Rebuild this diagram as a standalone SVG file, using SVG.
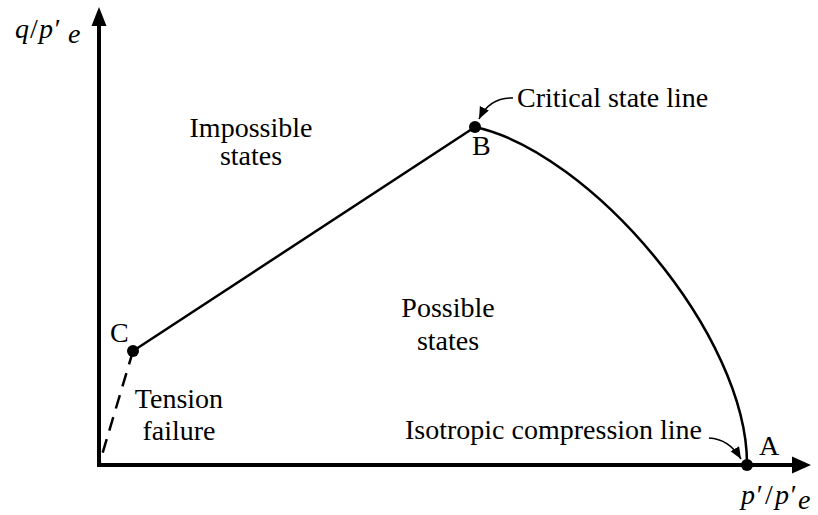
<svg xmlns="http://www.w3.org/2000/svg" width="818" height="515" viewBox="0 0 818 515">
<defs>
<style>
text{font-family:'Liberation Serif','DejaVu Serif',serif;font-size:28px;fill:#000}
.it{font-style:italic}
.ln{fill:none;stroke:#000;stroke-width:2.5}
.ax{fill:none;stroke:#000;stroke-width:4}
.thin{fill:none;stroke:#000;stroke-width:1.6}
.dot{fill:#000}
</style>
<marker id="ah" markerUnits="userSpaceOnUse" markerWidth="14" markerHeight="12" refX="12" refY="5" orient="auto">
<path d="M0,0 L12,5 L0,10 z" fill="#000"/>
</marker>
</defs>
<rect width="818" height="515" fill="#fff"/>
<g id="axes">
<line class="ax" x1="99" y1="467" x2="99" y2="22"/>
<polygon points="99,7 91.5,26 106.5,26" fill="#000"/>
<line class="ax" x1="97" y1="465" x2="795" y2="465"/>
<polygon points="811,465 792,456.5 792,473.5" fill="#000"/>
<text class="it" x="15" y="38" font-size="30">q</text>
<text x="30" y="38" font-size="30">/</text>
<text class="it" x="39" y="38" font-size="30">p′</text>
<text class="it" x="68" y="43" font-size="20">e</text>
<text class="it" x="741" y="504" font-size="30">p′</text>
<text x="765" y="504" font-size="30">/</text>
<text class="it" x="775" y="504" font-size="30">p′</text>
<text class="it" x="798" y="509" font-size="20">e</text>
</g>
<g id="connectors">
<line class="ln" x1="133" y1="351" x2="475" y2="127"/>
<path class="ln" d="M475,127 C590,152 748,335 747,465"/>
<line class="ln" x1="133" y1="351" x2="99" y2="465" stroke-dasharray="14,9"/>
<path class="thin" d="M513,98 Q490,97 479,119" marker-end="url(#ah)"/>
<path class="thin" d="M709,438 Q729,439 741,459" marker-end="url(#ah)"/>
</g>
<g id="node-A">
<circle class="dot" cx="747" cy="465" r="6"/>
<text x="759" y="455">A</text>
</g>
<g id="node-B">
<circle class="dot" cx="475" cy="127" r="6"/>
<text x="472" y="155">B</text>
</g>
<g id="node-C">
<circle class="dot" cx="133" cy="351" r="6"/>
<text x="110" y="342">C</text>
</g>
<g id="label-csl">
<text x="517" y="107">Critical state line</text>
</g>
<g id="label-icl">
<text x="405" y="439">Isotropic compression line</text>
</g>
<g id="label-impossible">
<text x="251" y="137" text-anchor="middle">Impossible</text>
<text x="251" y="165" text-anchor="middle">states</text>
</g>
<g id="label-possible">
<text x="448" y="317" text-anchor="middle">Possible</text>
<text x="448" y="350" text-anchor="middle">states</text>
</g>
<g id="label-tension">
<text x="179" y="408" text-anchor="middle">Tension</text>
<text x="179" y="440" text-anchor="middle">failure</text>
</g>
</svg>
